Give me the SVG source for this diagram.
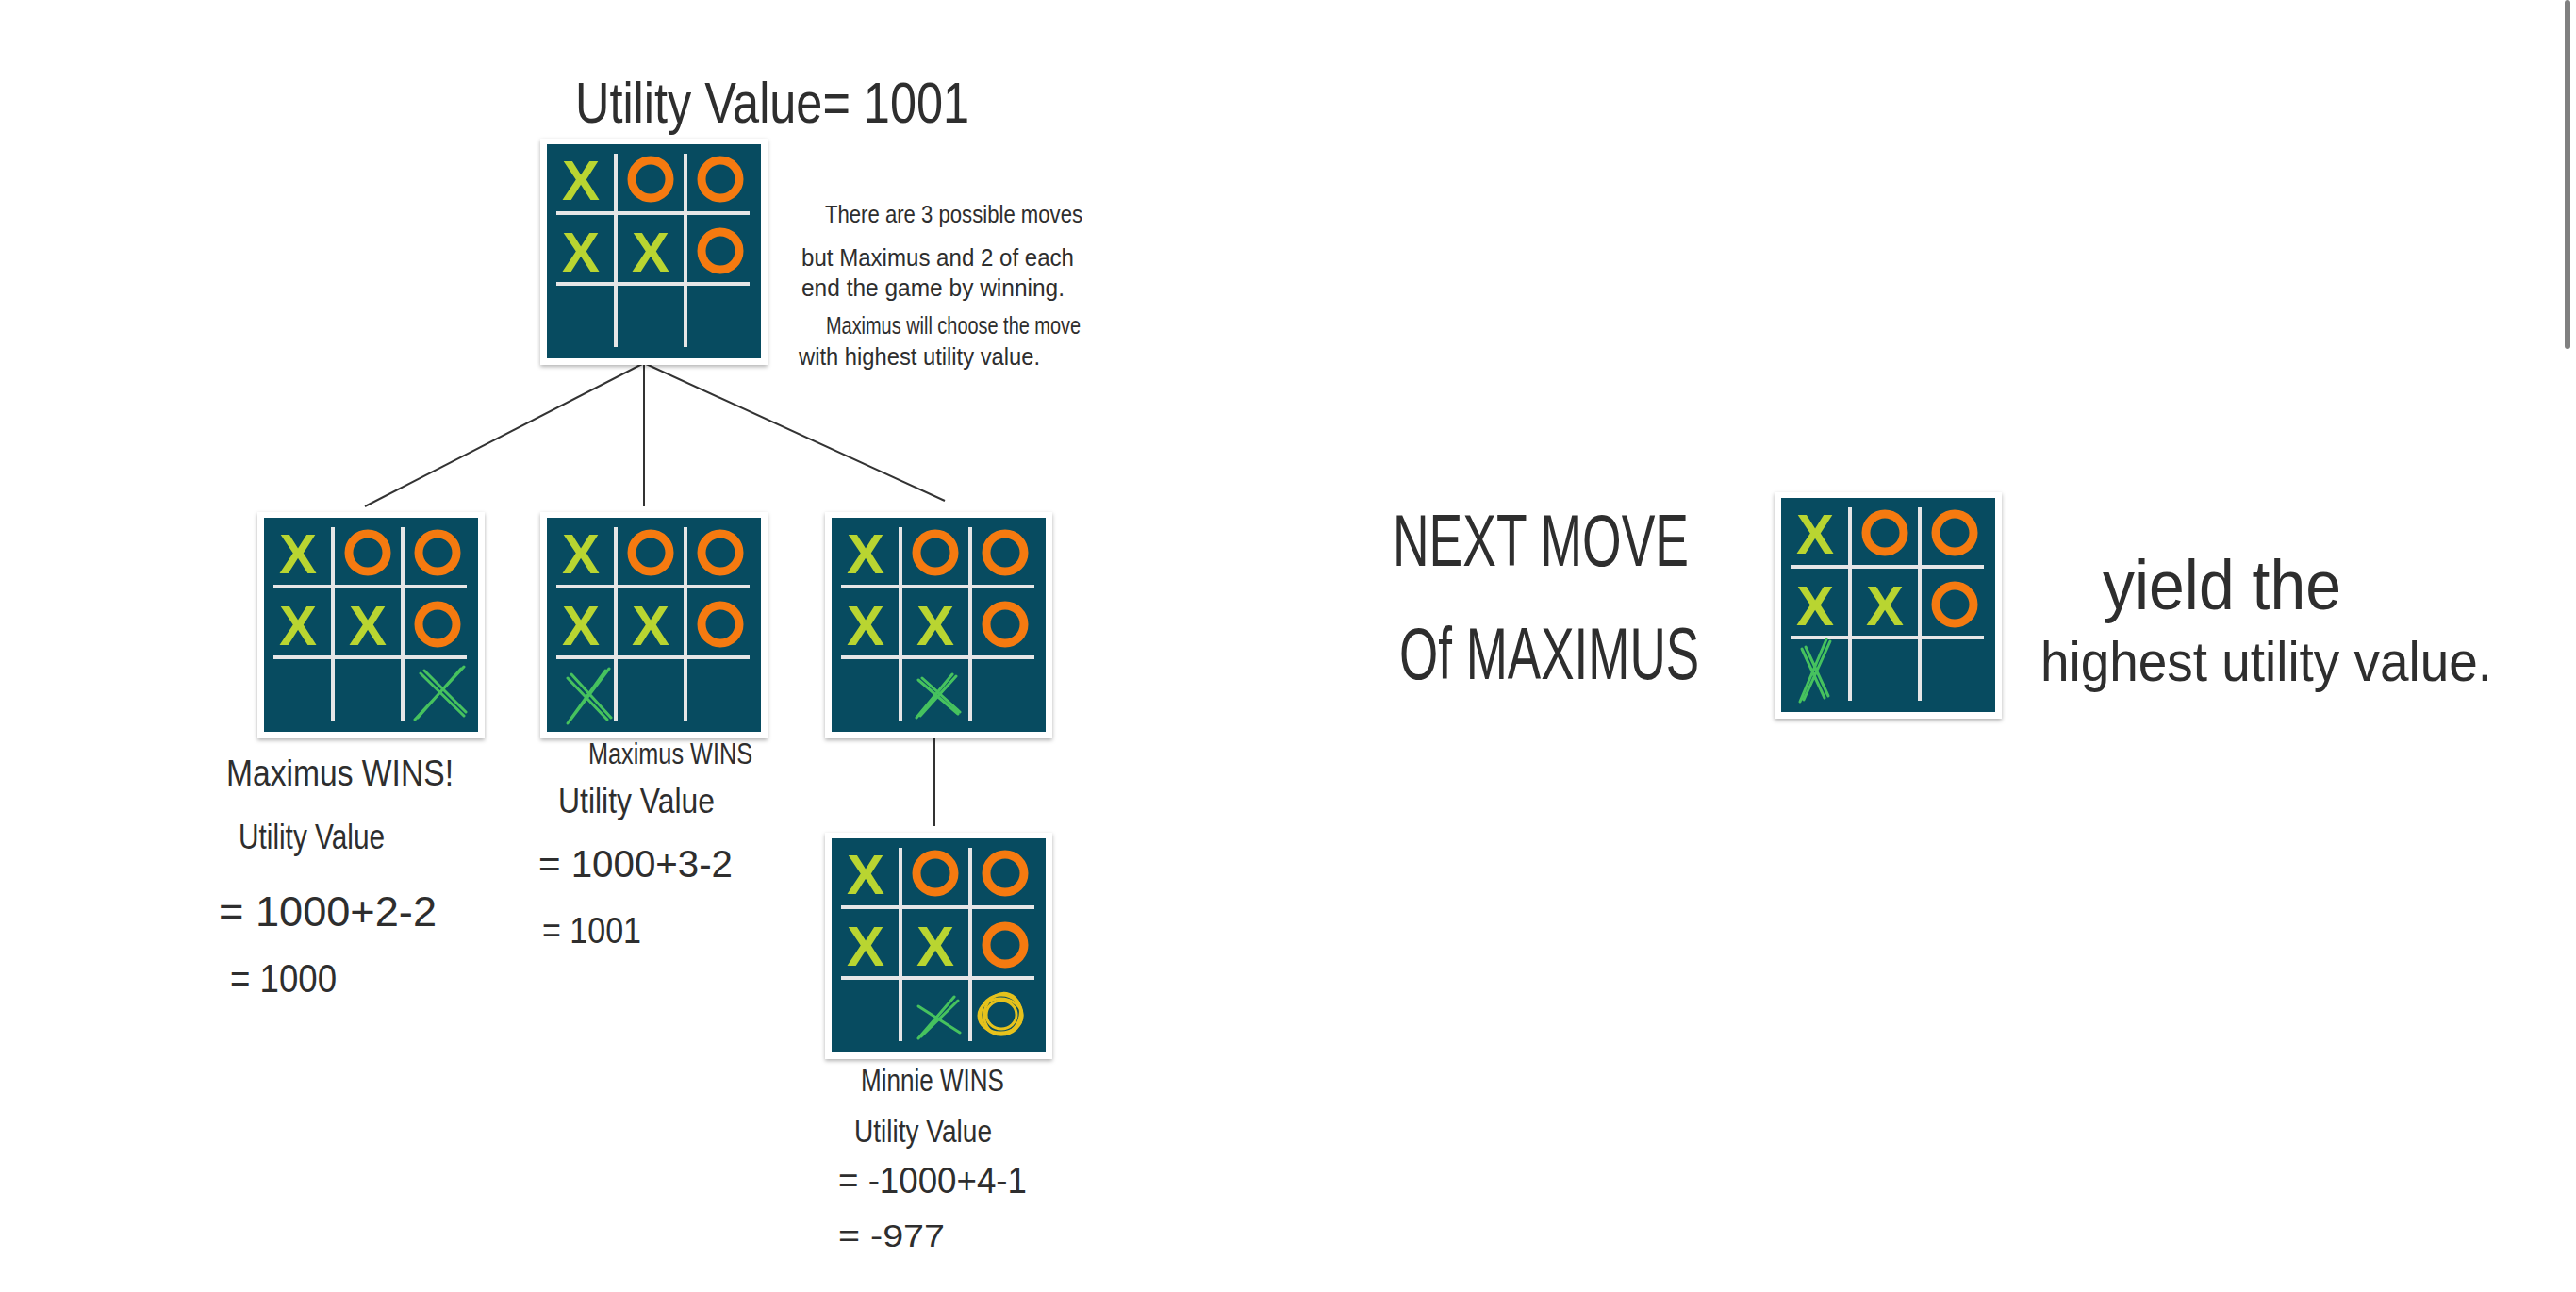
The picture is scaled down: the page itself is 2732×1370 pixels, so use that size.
<svg xmlns="http://www.w3.org/2000/svg" xmlns:xlink="http://www.w3.org/1999/xlink" width="2732" height="1370" viewBox="0 0 2732 1370">
<style>
.hw{font-family:"Liberation Sans Narrow","Liberation Sans",sans-serif;fill:#2e2e2e;}
.xm{font-family:"Liberation Sans",Arial,sans-serif;font-weight:bold;font-size:60px;fill:#b9d531;text-anchor:middle;}
.om{fill:none;stroke:#f57a10;stroke-width:9;}
.grid{stroke:#e6e6e6;stroke-width:4;fill:none;}
.gx{stroke:#46c25e;stroke-width:3;fill:none;stroke-linecap:round;}
.yo{stroke:#e6c21c;stroke-width:3;fill:none;}
.conn{stroke:#333;stroke-width:2;fill:none;}
</style>
<defs>
<filter id="sh" x="-10%" y="-10%" width="120%" height="120%">
<feDropShadow dx="0" dy="2" stdDeviation="2" flood-color="#000" flood-opacity="0.3"/>
</filter>
<g id="board">
<rect x="-7" y="-6" width="241" height="240" fill="#fff" filter="url(#sh)"/>
<rect x="0" y="0" width="227" height="227" fill="#074b60"/>
<path class="grid" d="M73 10V215M147 10V215M10 73H215M10 148H215"/>
<text class="xm" x="36" y="59">X</text>
<text class="xm" x="36" y="135">X</text>
<text class="xm" x="110" y="135">X</text>
<circle class="om" cx="110" cy="37" r="20"/>
<circle class="om" cx="184" cy="37" r="20"/>
<circle class="om" cx="184" cy="113" r="20"/>
</g>
</defs>
<rect width="2732" height="1370" fill="#fff"/>
<rect x="2720" y="0" width="6" height="370" rx="3" fill="#808080"/>

<g id="connectors">
<line class="conn" x1="683" y1="385" x2="387" y2="537"/>
<line class="conn" x1="683" y1="385" x2="683" y2="537"/>
<line class="conn" x1="683" y1="385" x2="1002" y2="531"/>
<line class="conn" x1="991" y1="779" x2="991" y2="876"/>
</g>

<g id="n_root" transform="translate(580,153)">
<use xlink:href="#board"/>
</g>
<g id="n_a" transform="translate(280,549)">
<use xlink:href="#board"/>
<path class="gx" d="M160 214L212 158M163 212L209 160M166 165L212 210M170 162L214 206"/>
</g>
<g id="n_b" transform="translate(580,549)">
<use xlink:href="#board"/>
<path class="gx" d="M22 218L62 162M25 214L66 160M26 166L68 212M22 170L64 214"/>
</g>
<g id="n_c" transform="translate(882,549)">
<use xlink:href="#board"/>
<path class="gx" d="M90 212L128 166M94 210L132 168M92 172L134 208M96 170L136 206"/>
</g>
<g id="n_d" transform="translate(882,889)">
<use xlink:href="#board"/>
<path class="gx" d="M92 212L130 168M95 210L134 172M92 178L136 206"/>
<ellipse class="yo" cx="180" cy="187" rx="22" ry="21"/>
<ellipse class="yo" cx="181" cy="186" rx="19" ry="22" transform="rotate(20 181 186)"/>
<ellipse class="yo" cx="179" cy="188" rx="23" ry="18"/>
<ellipse class="yo" cx="180" cy="187" rx="16" ry="15"/>
</g>
<g id="n_next" transform="translate(1889,528)">
<use xlink:href="#board"/>
<path class="gx" d="M20 216L48 150M24 214L52 152M22 160L46 212M26 158L50 210"/>
</g>

<g id="labels">
<text class="hw" x="610" y="130" font-size="62" textLength="418" lengthAdjust="spacingAndGlyphs">Utility Value= 1001</text>
<text class="hw" x="875" y="236" font-size="26" textLength="273" lengthAdjust="spacingAndGlyphs">There are 3 possible moves</text>
<text class="hw" x="850" y="282" font-size="26" textLength="289" lengthAdjust="spacingAndGlyphs">but Maximus and 2 of each</text>
<text class="hw" x="850" y="314" font-size="26" textLength="279" lengthAdjust="spacingAndGlyphs">end the game by winning.</text>
<text class="hw" x="876" y="354" font-size="26" textLength="270" lengthAdjust="spacingAndGlyphs">Maximus will choose the move</text>
<text class="hw" x="847" y="387" font-size="26" textLength="256" lengthAdjust="spacingAndGlyphs">with highest utility value.</text>

<text class="hw" x="240" y="833" font-size="38" textLength="241" lengthAdjust="spacingAndGlyphs">Maximus WINS!</text>
<text class="hw" x="253" y="900" font-size="36" textLength="155" lengthAdjust="spacingAndGlyphs">Utility Value</text>
<text class="hw" x="232" y="982" font-size="44" textLength="231" lengthAdjust="spacingAndGlyphs">= 1000+2-2</text>
<text class="hw" x="244" y="1052" font-size="42" textLength="113" lengthAdjust="spacingAndGlyphs">= 1000</text>

<text class="hw" x="624" y="810" font-size="32" textLength="174" lengthAdjust="spacingAndGlyphs">Maximus WINS</text>
<text class="hw" x="592" y="862" font-size="36" textLength="166" lengthAdjust="spacingAndGlyphs">Utility Value</text>
<text class="hw" x="571" y="930" font-size="40" textLength="206" lengthAdjust="spacingAndGlyphs">= 1000+3-2</text>
<text class="hw" x="575" y="1000" font-size="38" textLength="105" lengthAdjust="spacingAndGlyphs">= 1001</text>

<text class="hw" x="913" y="1157" font-size="34" textLength="152" lengthAdjust="spacingAndGlyphs">Minnie WINS</text>
<text class="hw" x="906" y="1211" font-size="34" textLength="146" lengthAdjust="spacingAndGlyphs">Utility Value</text>
<text class="hw" x="889" y="1265" font-size="38" textLength="200" lengthAdjust="spacingAndGlyphs">= -1000+4-1</text>
<text class="hw" x="889" y="1322" font-size="34" textLength="113" lengthAdjust="spacingAndGlyphs">= -977</text>

<text class="hw" x="1477" y="600" font-size="78" textLength="314" lengthAdjust="spacingAndGlyphs">NEXT MOVE</text>
<text class="hw" x="1484" y="720" font-size="78" textLength="318" lengthAdjust="spacingAndGlyphs">Of MAXIMUS</text>
<text class="hw" x="2230" y="646" font-size="74" textLength="253" lengthAdjust="spacingAndGlyphs">yield the</text>
<text class="hw" x="2164" y="722" font-size="60" textLength="479" lengthAdjust="spacingAndGlyphs">highest utility value.</text>
</g>
</svg>
